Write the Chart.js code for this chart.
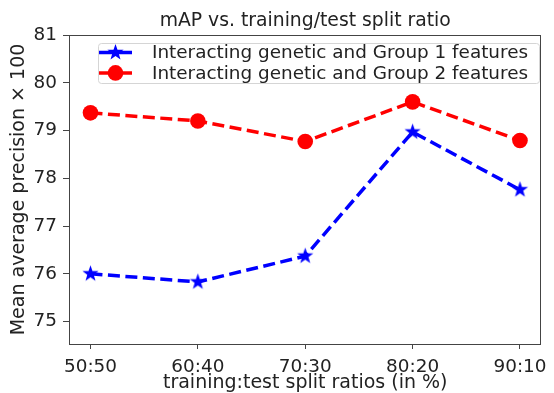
<!DOCTYPE html>
<html lang="en">
<head>
    <meta charset="UTF-8">
    <title>mAP vs. training/test split ratio</title>
    <script src="https://cdn.jsdelivr.net/npm/chart.js"></script>
    <style>
        body { margin: 0; background: #fff; }
    </style>
</head>
<body>
    <canvas id="myChart" width="554" height="393"></canvas>

    <script>
        // data
        const splitLabels = ['50:50', '60:40', '70:30', '80:20', '90:10'];
        const group1 = [76.00, 75.83, 76.37, 78.97, 77.76];
        const group2 = [79.37, 79.20, 78.77, 79.60, 78.79];
        const seriesNames = [
            'Interacting genetic and Group 1 features',
            'Interacting genetic and Group 2 features'
        ];
        const chartTitle = 'mAP vs. training/test split ratio';

        const FONT = "'DejaVu Sans', sans-serif";
        const TEXT = '#222';
        const AXIS = '#444';

        // filled five point star like matplotlib's '*' marker
        function makeStar(r, color) {
            const c = document.createElement('canvas');
            c.width = c.height = Math.ceil(r * 2 + 2);
            const g = c.getContext('2d');
            const cx = c.width / 2, cy = c.height / 2;
            g.beginPath();
            for (let i = 0; i < 10; i++) {
                const rad = i % 2 === 0 ? r : r * 0.4;
                const a = -Math.PI / 2 + i * Math.PI / 5;
                g.lineTo(cx + rad * Math.cos(a), cy + rad * Math.sin(a));
            }
            g.closePath();
            g.fillStyle = color;
            g.fill();
            return c;
        }
        const star = makeStar(8.5, '#0000ff');

        const toPoints = arr => arr.map((v, i) => ({ x: i, y: v }));

        // frame, title over the axes and legend box inside the plot, matplotlib style
        const framePlugin = {
            id: 'frame',
            afterDraw(chart) {
                const { ctx, chartArea: a } = chart;
                ctx.save();
                ctx.strokeStyle = AXIS;
                ctx.lineWidth = 1;
                ctx.strokeRect(Math.round(a.left) + 0.5, Math.round(a.top) + 0.5,
                    Math.round(a.right - a.left) - 1, Math.round(a.bottom - a.top));

                ctx.fillStyle = TEXT;
                ctx.font = '18.8px ' + FONT;
                ctx.textAlign = 'center';
                ctx.textBaseline = 'middle';
                ctx.fillText(chartTitle, (a.left + a.right) / 2, 21);

                // legend
                const lx = 98, ly = 43, lw = 441, lh = 40;
                ctx.beginPath();
                ctx.roundRect(lx + 0.5, ly + 0.5, lw, lh, 3);
                ctx.fillStyle = 'rgba(255,255,255,0.8)';
                ctx.fill();
                ctx.strokeStyle = '#d5d5d5';
                ctx.stroke();

                ctx.textAlign = 'left';
                chart.data.datasets.forEach((ds, i) => {
                    const y = 52.5 + i * 20.4;
                    ctx.beginPath();
                    ctx.moveTo(99, y);
                    ctx.lineTo(132, y);
                    ctx.strokeStyle = ds.borderColor;
                    ctx.lineWidth = 3.5;
                    ctx.stroke();
                    if (ds.pointStyle === 'circle') {
                        ctx.beginPath();
                        ctx.arc(115.5, y, ds.pointRadius, 0, Math.PI * 2);
                        ctx.fillStyle = ds.pointBackgroundColor;
                        ctx.fill();
                    } else {
                        ctx.drawImage(ds.pointStyle, 115.5 - ds.pointStyle.width / 2, y - ds.pointStyle.height / 2);
                    }
                    ctx.fillStyle = TEXT;
                    ctx.font = '18.4px ' + FONT;
                    ctx.fillText(ds.label, 152, y + 1);
                });
                ctx.restore();
            }
        };

        const ctx = document.getElementById('myChart').getContext('2d');
        const myChart = new Chart(ctx, {
            type: 'line',
            data: {
                datasets: [{
                    label: seriesNames[0],
                    data: toPoints(group1),
                    borderColor: '#0000ff',
                    backgroundColor: '#0000ff',
                    borderWidth: 3.5,
                    borderDash: [12, 5.5],
                    pointStyle: star,
                    pointRadius: 8,
                    pointBackgroundColor: '#0000ff',
                    tension: 0
                }, {
                    label: seriesNames[1],
                    data: toPoints(group2),
                    borderColor: '#ff0000',
                    backgroundColor: '#ff0000',
                    borderWidth: 3.5,
                    borderDash: [12, 5.5],
                    pointStyle: 'circle',
                    pointRadius: 7.8,
                    pointBorderWidth: 0,
                    pointBackgroundColor: '#ff0000',
                    tension: 0
                }]
            },
            options: {
                responsive: false,
                animation: false,
                layout: { padding: { left: 0, right: 5, top: 35, bottom: 0 } },
                plugins: {
                    legend: { display: false },
                    tooltip: { enabled: false },
                    title: { display: false }
                },
                scales: {
                    x: {
                        type: 'linear',
                        min: -0.2,
                        max: 4.2,
                        afterFit: s => { s.height = 49; },
                        border: { display: false },
                        grid: { drawOnChartArea: false, drawTicks: true, tickLength: 5, color: AXIS },
                        ticks: {
                            stepSize: 1,
                            includeBounds: false,
                            padding: 7,
                            color: TEXT,
                            font: { family: FONT, size: 18.4 },
                            callback: v => splitLabels[v]
                        },
                        title: {
                            display: true,
                            text: 'training:test split ratios (in %)',
                            color: TEXT,
                            font: { family: FONT, size: 19, lineHeight: 1 },
                            padding: { top: 0, bottom: 0 }
                        }
                    },
                    y: {
                        min: 74.53,
                        max: 81,
                        afterFit: s => { s.width = 69; },
                        border: { display: false },
                        grid: { drawOnChartArea: false, drawTicks: true, tickLength: 6, color: AXIS },
                        ticks: {
                            stepSize: 1,
                            includeBounds: false,
                            padding: 6,
                            color: TEXT,
                            font: { family: FONT, size: 18.4 }
                        },
                        title: {
                            display: true,
                            text: 'Mean average precision \u00d7 100',
                            color: TEXT,
                            font: { family: FONT, size: 19, lineHeight: 1 },
                            padding: { top: 10, bottom: 0 }
                        }
                    }
                }
            },
            plugins: [framePlugin]
        });
    </script>
</body>
</html>
